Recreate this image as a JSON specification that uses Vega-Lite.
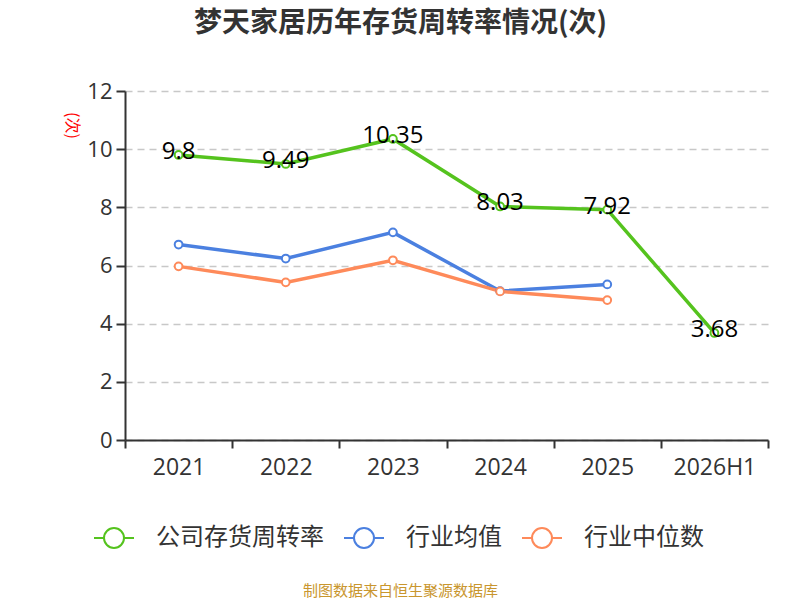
{
  "$schema": "https://vega.github.io/schema/vega-lite/v6.json",
  "autosize": "none",
  "width": 643,
  "height": 349,
  "padding": {"left": 125, "top": 91, "right": 32, "bottom": 160},
  "background": "white",
  "title": {
    "text": "梦天家居历年存货周转率情况(次)",
    "font": "Noto Sans CJK SC",
    "fontSize": 28,
    "fontWeight": "bold",
    "color": "#333333",
    "anchor": "middle",
    "dx": -46,
    "offset": 42
  },
  "data": {
    "values": [
      {"year": "2021", "series": "公司存货周转率", "value": 9.8},
      {"year": "2022", "series": "公司存货周转率", "value": 9.49},
      {"year": "2023", "series": "公司存货周转率", "value": 10.35},
      {"year": "2024", "series": "公司存货周转率", "value": 8.03},
      {"year": "2025", "series": "公司存货周转率", "value": 7.92},
      {"year": "2026H1", "series": "公司存货周转率", "value": 3.68},
      {"year": "2021", "series": "行业均值", "value": 6.72},
      {"year": "2022", "series": "行业均值", "value": 6.24},
      {"year": "2023", "series": "行业均值", "value": 7.14},
      {"year": "2024", "series": "行业均值", "value": 5.12},
      {"year": "2025", "series": "行业均值", "value": 5.35},
      {"year": "2021", "series": "行业中位数", "value": 5.97},
      {"year": "2022", "series": "行业中位数", "value": 5.42},
      {"year": "2023", "series": "行业中位数", "value": 6.18},
      {"year": "2024", "series": "行业中位数", "value": 5.11},
      {"year": "2025", "series": "行业中位数", "value": 4.81}
    ]
  },
  "encoding": {
    "x": {
      "field": "year",
      "type": "ordinal",
      "sort": null,
      "scale": {"paddingInner": 0, "paddingOuter": 0},
      "axis": {
        "title": "制图数据来自恒生聚源数据库",
        "titleFont": "Noto Sans CJK SC",
        "titleFontSize": 15,
        "titleFontWeight": "normal",
        "titleColor": "#c9962e",
        "titleX": 275,
        "titleY": 150,
        "titleBaseline": "middle",
        "labelAngle": 0,
        "labelFont": "Open Sans",
        "labelFontSize": 23,
        "labelColor": "#333333",
        "labelPadding": 8,
        "domainColor": "#333333",
        "domainWidth": 2,
        "tickColor": "#333333",
        "tickWidth": 2,
        "tickSize": 8,
        "tickBand": "extent",
        "grid": false
      }
    },
    "y": {
      "field": "value",
      "type": "quantitative",
      "scale": {"domain": [0, 12]},
      "axis": {
        "values": [0, 2, 4, 6, 8, 10, 12],
        "title": "(次)",
        "titleFont": "Noto Sans CJK SC",
        "titleFontSize": 16,
        "titleFontWeight": "normal",
        "titleColor": "#ff0000",
        "titleAngle": 90,
        "titleX": -62,
        "titleY": 34,
        "labelFont": "Open Sans",
        "labelFontSize": 22,
        "labelColor": "#333333",
        "labelPadding": 4,
        "domainColor": "#333333",
        "domainWidth": 2,
        "tickColor": "#333333",
        "tickWidth": 2,
        "tickSize": 9,
        "grid": true,
        "gridColor": "#c8c8c8",
        "gridDash": [7, 5],
        "gridWidth": 1.5
      }
    },
    "color": {
      "field": "series",
      "type": "nominal",
      "scale": {
        "domain": ["公司存货周转率", "行业均值", "行业中位数"],
        "range": ["#55c31e", "#4b80e0", "#fe8a5a"]
      },
      "legend": {
        "title": null,
        "orient": "none",
        "direction": "horizontal",
        "legendX": -32,
        "legendY": 426,
        "symbolType": "M-1,0L-0.5,0M0.5,0L1,0M-0.5,0A0.5,0.5,0,1,1,0.5,0A0.5,0.5,0,1,1,-0.5,0",
        "symbolSize": 1600,
        "symbolStrokeWidth": 2,
        "symbolOpacity": 1,
        "labelFont": "Noto Sans CJK SC",
        "labelFontSize": 24,
        "labelColor": "#333333",
        "labelOffset": 21,
        "columnPadding": 16,
        "labelLimit": 300,
        "encode": {
          "symbols": {"update": {"fill": {"value": "white"}, "fillOpacity": {"value": 1}}}
        }
      }
    }
  },
  "layer": [
    {
      "mark": {"type": "line", "strokeWidth": 3.5}
    },
    {
      "mark": {"type": "point", "shape": "circle", "filled": false, "fill": "white", "fillOpacity": 1, "opacity": 1, "size": 60, "strokeWidth": 2}
    },
    {
      "transform": [{"filter": "datum.series === '公司存货周转率'"}],
      "mark": {"type": "text", "font": "Open Sans", "fontSize": 24, "dy": -3},
      "encoding": {
        "text": {"field": "value", "type": "quantitative"},
        "color": {"value": "#000000"}
      }
    }
  ],
  "config": {
    "view": {"stroke": null}
  }
}
